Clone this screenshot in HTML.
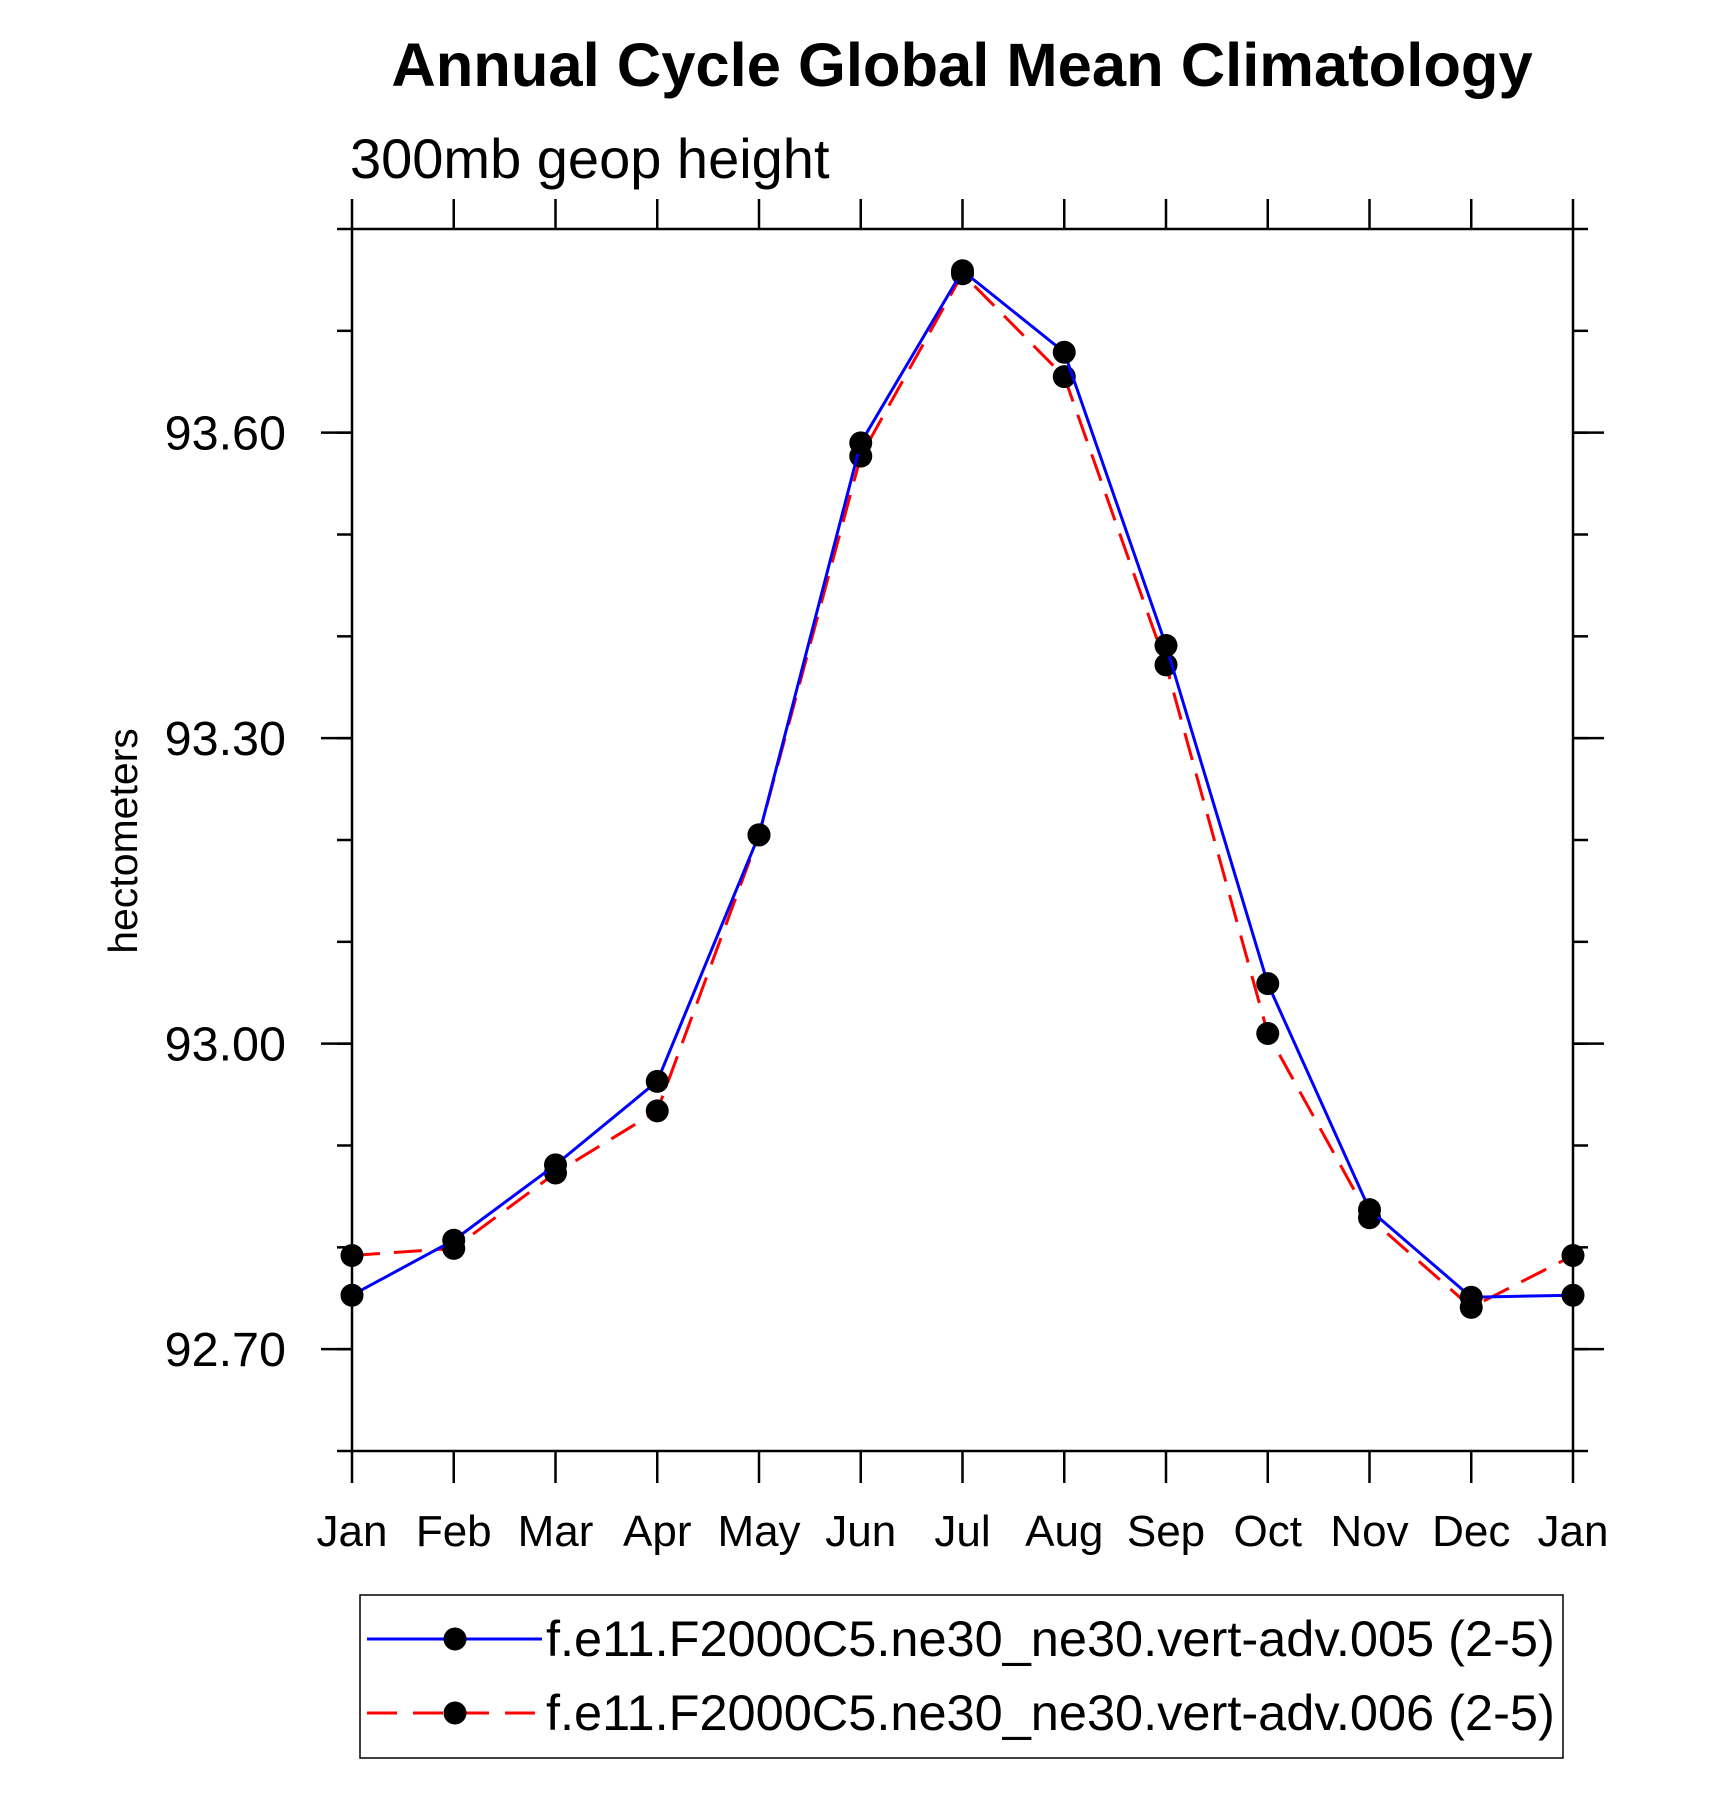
<!DOCTYPE html>
<html><head><meta charset="utf-8"><style>
html,body{margin:0;padding:0;background:#fff;}
svg{display:block;font-family:"Liberation Sans",Arial,sans-serif;}
</style></head><body>
<svg id="chart" width="1710" height="1797" viewBox="0 0 1710 1797" xmlns="http://www.w3.org/2000/svg">
<text x="962" y="86" font-size="61.5" font-weight="bold" text-anchor="middle">Annual Cycle Global Mean Climatology</text>
<text x="350" y="178" font-size="56">300mb geop height</text>
<text x="0" y="0" font-size="41" text-anchor="middle" transform="translate(137,841) rotate(-90)">hectometers</text>
<g id="axes"></g>
<g id="series"></g>
<g>
<rect x="360" y="1595" width="1203" height="163" fill="none" stroke="#000" stroke-width="1.5"/>
<g>
<line x1="367" y1="1639" x2="542" y2="1639" stroke="#0000ff" stroke-width="3"/>
<circle cx="455" cy="1639" r="11.5" fill="#000"/>
<text x="546" y="1656" font-size="50.5">f.e11.F2000C5.ne30_ne30.vert-adv.005 (2-5)</text>
</g>
<g>
<line x1="367" y1="1713" x2="542" y2="1713" stroke="#ff0000" stroke-width="3" stroke-dasharray="30,16"/>
<circle cx="455" cy="1713" r="11.5" fill="#000"/>
<text x="546" y="1730" font-size="50.5">f.e11.F2000C5.ne30_ne30.vert-adv.006 (2-5)</text>
</g>
</g>
</svg>
<script>
const months = ["Jan","Feb","Mar","Apr","May","Jun","Jul","Aug","Sep","Oct","Nov","Dec","Jan"];
const series005 = [92.753,92.807,92.881,92.963,93.205,93.590,93.759,93.679,93.391,93.059,92.837,92.751,92.753];
const series006 = [92.792,92.799,92.873,92.934,93.205,93.577,93.756,93.655,93.372,93.010,92.829,92.741,92.792];
const yTickValues = [92.70,93.00,93.30,93.60];
const yTickLabels = ["92.70","93.00","93.30","93.60"];
const yMin = 92.60, yMax = 93.80;

const L=352,R=1573,T=229,B=1451;
const NS="http://www.w3.org/2000/svg";
const xS=i=>L+(R-L)*i/(months.length-1);
const yS=v=>B-(B-T)*(v-yMin)/(yMax-yMin);
function mk(tag,attrs,parent){const e=document.createElementNS(NS,tag);for(const k in attrs)e.setAttribute(k,attrs[k]);parent.appendChild(e);return e;}
const axes=document.getElementById('axes');
const frame=mk('rect',{x:L,y:T,width:R-L,height:B-T,fill:'none',stroke:'#000','stroke-width':2.5},axes);


months.forEach((m,i)=>{
  const x=xS(i);
  const t1=mk('line',{x1:x,y1:B,x2:x,y2:B+32,stroke:'#000','stroke-width':2.5},axes);
  
  
  const t2=mk('line',{x1:x,y1:T,x2:x,y2:T-30,stroke:'#000','stroke-width':2.5},axes);
  
  
  const lb=mk('text',{x:x,y:1546,'font-size':44,'text-anchor':'middle'},axes);
  lb.textContent=m;
  
  
});
for(let k=0;k<=12;k++){
  const v=yMin+k*0.1, y=yS(v);
  const tl=mk('line',{x1:L-15,y1:y,x2:L,y2:y,stroke:'#000','stroke-width':2.5},axes);
  
  
  const tr=mk('line',{x1:R,y1:y,x2:R+15,y2:y,stroke:'#000','stroke-width':2.5},axes);
  
  
}
yTickValues.forEach((v,i)=>{
  const y=yS(v);
  const tl=mk('line',{x1:L-31,y1:y,x2:L,y2:y,stroke:'#000','stroke-width':2.5},axes);
  
  
  const tr=mk('line',{x1:R,y1:y,x2:R+31,y2:y,stroke:'#000','stroke-width':2.5},axes);
  
  
  const lb=mk('text',{x:286,y:y+17,'font-size':48.5,'text-anchor':'end'},axes);
  lb.textContent=yTickLabels[i];
  
  
});
const sg=document.getElementById('series');
function draw(vals,color,dash,name){
  const g=mk('g',{},sg);
  
  
  const pts=vals.map((v,i)=>xS(i)+','+yS(v)).join(' ');
  const pl=mk('polyline',{points:pts,fill:'none',stroke:color,'stroke-width':3,'stroke-dasharray':dash},g);
  
  
  vals.forEach((v,i)=>{
    const c=mk('circle',{cx:xS(i),cy:yS(v),r:11.5,fill:'#000'},g);
    
    
  });
}
draw(series006,'#ff0000','28,14','series-006');
draw(series005,'#0000ff','none','series-005');
</script>
</body></html>
